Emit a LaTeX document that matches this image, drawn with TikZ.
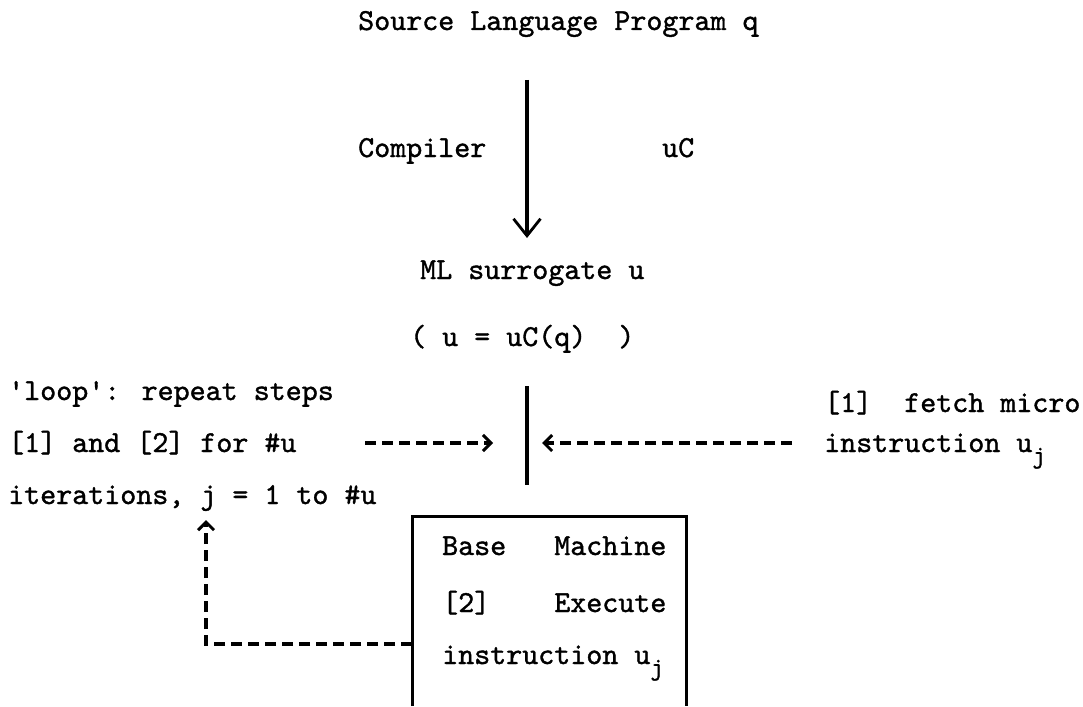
\documentclass[tikz,border=0pt]{standalone}
\usepackage{fontspec}
\usetikzlibrary{arrows.meta}
\newfontfamily\twfont{lmmono10-regular.otf}[FakeBold=1.2]
\newcommand\tw{\twfont\fontsize{30.5}{36}\selectfont}
\newcommand\subj{\raisebox{-11pt}{\fontsize{25}{25}\selectfont j}}
\begin{document}
\begin{tikzpicture}[x=1pt,y=-1pt,
  txt/.style={font=\tw, inner sep=0pt, anchor=base west},
  solidline/.style={line width=3.2pt},
  dashline/.style={line width=3.4pt, dash pattern=on 11pt off 6pt},
  bigtip/.style={-{Straight Barb[length=17pt,width=27pt,line width=2.8pt]}},
  smalltip/.style={-{Straight Barb[length=8pt,width=16pt,line width=3pt]}},
  framed/.style={line width=3pt}]
\useasboundingbox (0,0) rectangle (1083,706);

% compilation stage
\node[txt] (src) at (358,30) {Source Language Program q};
\node[txt] (comp) at (358,157) {Compiler};
\node[txt] (uc) at (662,157) {uC};
\node[txt] (ml) at (420,279) {ML surrogate u};
\node[txt] (eq) at (410,346) {(~u = uC(q)~~)};
\coordinate (cstart) at (527,80);
\coordinate (cend) at (527,238);
\draw[solidline, bigtip] (cstart) -- (cend);

% execution stage
\coordinate (bustop) at (527,386);
\coordinate (busbot) at (527,485);
\coordinate (busin) at (527,443);
\draw[solidline] (bustop) -- (busbot);

\node[txt] (l1) at (8,400) {\textquotesingle loop\textquotesingle: repeat steps};
\node[txt] (l2) at (8,452) {[1] and [2] for \#u};
\node[txt] (l3) at (8,504) {iterations, j = 1 to \#u};

\node[txt] (r1) at (824,412) {[1]~~fetch micro};
\node[txt] (r2) at (824,452) {instruction u\subj};

\coordinate (loopout) at (365,443);
\coordinate (fetchout) at (792,443);
\draw[dashline, smalltip, shorten >=34pt] (loopout) -- (busin);
\draw[dashline, smalltip, shorten >=15pt] (fetchout) -- (busin);

% base machine box, open at the foot
\coordinate (bl) at (412,706);
\coordinate (tl) at (412,516);
\coordinate (tr) at (686,516);
\coordinate (br) at (686,706);
\draw[framed] (bl) -- (tl) -- (tr) -- (br);
\node[txt] (b1) at (442,555) {Base~~~Machine};
\node[txt] (b2) at (442,612) {[2]~~~~Execute};
\node[txt] (b3) at (442,664) {instruction u\subj};

% feedback to the loop control
\coordinate (boxout) at (412,644);
\coordinate (corner) at (206,644);
\coordinate (loopin) at (206,520);
\draw[dashline, smalltip] (boxout) -- (corner) -- (loopin);
\end{tikzpicture}
\end{document}
